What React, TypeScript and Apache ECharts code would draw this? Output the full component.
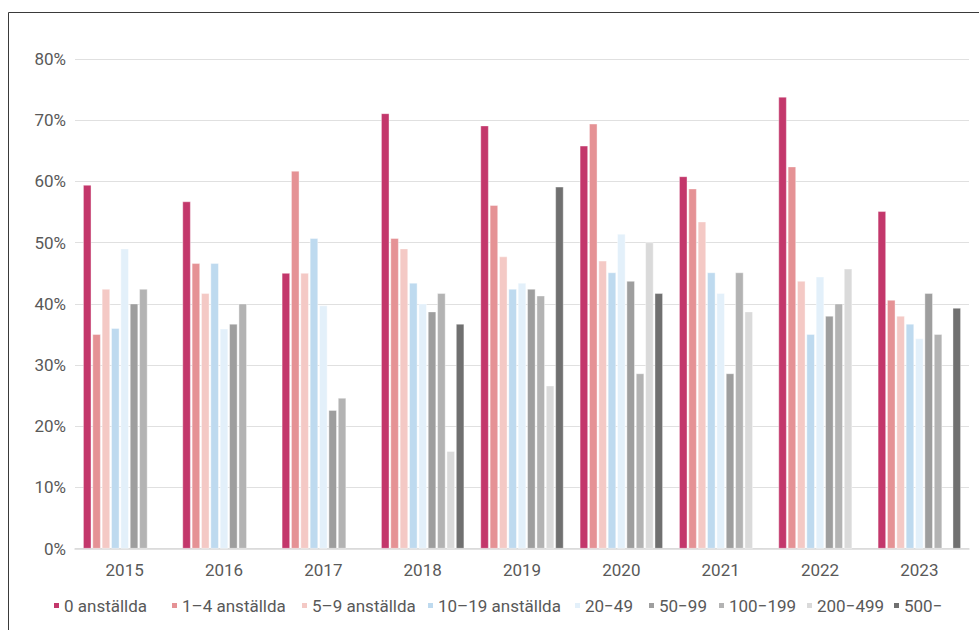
import React, { useEffect, useRef } from "react";
import * as echarts from "echarts";

// Years on the category axis
const years = ["2015", "2016", "2017", "2018", "2019", "2020", "2021", "2022", "2023"];

// Size classes (legend order)
const sizeClasses = [
  "0 anställda",
  "1–4 anställda",
  "5–9 anställda",
  "10–19 anställda",
  "20−49",
  "50−99",
  "100−199",
  "200−499",
  "500−",
];

const classColors = [
  "#C3376B",
  "#E59295",
  "#F4C9C5",
  "#BEDAEF",
  "#E3F0FA",
  "#9E9E9E",
  "#B3B3B3",
  "#DADADA",
  "#707070",
];

// Share (%) per size class, one value per year; null = no bar
const v0 = [59.4, 56.7, 45.0, 71.1, 69.1, 65.8, 60.8, 73.8, 55.1];
const v1to4 = [35.0, 46.6, 61.7, 50.7, 56.1, 69.4, 58.8, 62.4, 40.6];
const v5to9 = [42.4, 41.7, 45.0, 49.0, 47.7, 47.0, 53.4, 43.7, 38.0];
const v10to19 = [36.0, 46.6, 50.7, 43.4, 42.4, 45.1, 45.1, 35.0, 36.7];
const v20to49 = [49.0, 35.9, 39.7, 40.0, 43.4, 51.4, 41.7, 44.4, 34.3];
const v50to99 = [40.0, 36.7, 22.6, 38.7, 42.4, 43.7, 28.6, 38.0, 41.7];
const v100to199 = [42.4, 40.0, 24.6, 41.7, 41.3, 28.6, 45.1, 40.0, 35.0];
const v200to499 = [null, null, null, 15.9, 26.6, 50.0, 38.7, 45.7, null];
const v500plus = [null, null, null, 36.7, 59.1, 41.7, null, null, 39.3];

const seriesValues = [v0, v1to4, v5to9, v10to19, v20to49, v50to99, v100to199, v200to499, v500plus];

// Y axis ticks
const yMin = 0;
const yMax = 80;
const yStep = 10;

// Left edge of each legend entry (marker position)
const legendLefts = [52, 170, 300, 426, 573, 647, 717, 805, 892];

const FONT = "Roboto, 'Open Sans', sans-serif";
const TEXT = "#595959";

export default function App() {
  const ref = useRef<HTMLDivElement>(null);

  useEffect(() => {
    if (!ref.current) return;
    const chart = echarts.init(ref.current, null, { renderer: "svg" });

    const series = sizeClasses.map((name, i) => ({
      name,
      type: "bar",
      data: seriesValues[i],
      barWidth: 8,
      barGap: "17%",
      itemStyle: { color: classColors[i], borderColor: "#ffffff", borderWidth: 0.4 },
      emphasis: { disabled: true },
    }));

    const legends = sizeClasses.map((name, i) => ({
      data: [name],
      left: legendLefts[i],
      top: 597,
      padding: 0,
      itemWidth: 7,
      itemHeight: 7,
      icon: "rect",
      textStyle: { color: TEXT, fontSize: 17, fontFamily: FONT, padding: [0, 0, 0, -1] },
      selectedMode: false,
    }));

    chart.setOption({
      animation: false,
      backgroundColor: "#ffffff",
      textStyle: { fontFamily: FONT },
      grid: { left: 75, right: 10, top: 59, bottom: 81.5, containLabel: false },
      xAxis: {
        type: "category",
        data: years,
        axisLine: { show: true, lineStyle: { color: "#D9D9D9", width: 1.5 } },
        axisTick: { show: false },
        axisLabel: { color: TEXT, fontSize: 17, margin: 13, fontFamily: FONT },
      },
      yAxis: {
        type: "value",
        min: yMin,
        max: yMax,
        interval: yStep,
        axisLine: { show: false },
        axisTick: { show: false },
        axisLabel: {
          color: TEXT,
          fontSize: 17,
          margin: 9,
          fontFamily: FONT,
          formatter: (v: number) => `${v}%`,
        },
        splitLine: { lineStyle: { color: "#E0E0E0", width: 1.2 } },
      },
      legend: legends,
      graphic: [
        {
          type: "rect",
          shape: { x: 8.5, y: 12.5, width: 1000, height: 700 },
          style: { fill: "none", stroke: "#3A3A3A", lineWidth: 1 },
          silent: true,
        },
      ],
      series,
    });

    return () => chart.dispose();
  }, []);

  return (
    <div
      ref={ref}
      style={{ position: "fixed", left: 0, top: 0, width: 979, height: 630 }}
    />
  );
}
